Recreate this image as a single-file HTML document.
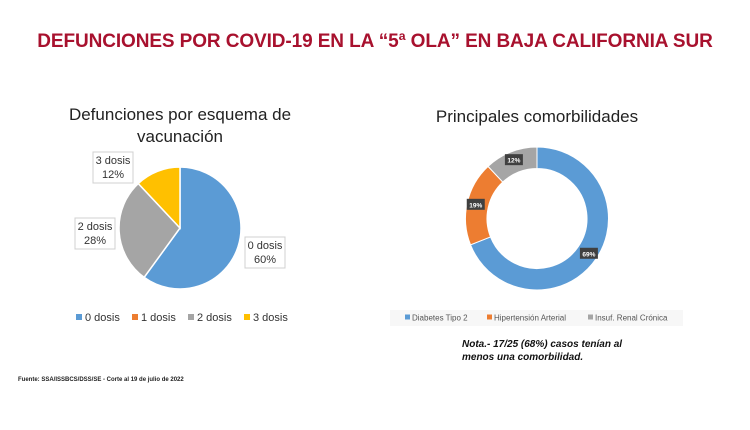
<!DOCTYPE html>
<html><head><meta charset="utf-8"><style>
body{margin:0;width:750px;height:430px;background:#fff;overflow:hidden;font-family:"Liberation Sans",sans-serif;position:relative}
.t{position:absolute;white-space:nowrap}
</style></head><body>
<div class="t" style="left:0;width:750px;top:31px;text-align:center;font-size:19px;font-weight:bold;color:#a8112e;letter-spacing:-0.1px">DEFUNCIONES POR COVID-19 EN LA “5ª OLA” EN BAJA CALIFORNIA SUR</div>
<svg id="s" width="750" height="430" style="position:absolute;left:0;top:0">
<text x="180" y="120" text-anchor="middle" font-size="17" fill="#222">Defunciones por esquema de</text>
<text x="180" y="142" text-anchor="middle" font-size="17" fill="#222">vacunación</text>
<text x="537" y="122" text-anchor="middle" font-size="17" fill="#222">Principales comorbilidades</text>
<rect x="390" y="310" width="293" height="16" fill="#f7f7f7"/>
<text x="462" y="347" font-size="10" font-style="italic" font-weight="bold" fill="#111">Nota.- 17/25 (68%) casos tenían al</text>
<text x="462" y="360" font-size="10" font-style="italic" font-weight="bold" fill="#111">menos una comorbilidad.</text>
<text x="18" y="381" font-size="6" fill="#222" font-weight="bold">Fuente: SSA/ISSBCS/DSS/SE  - Corte al 19 de julio de 2022</text>
</svg>
<script>
const pieCats=["0 dosis","1 dosis","2 dosis","3 dosis"];
const pieVals=[60,0,28,12];
const pieColors=["#5b9bd5","#ed7d31","#a5a5a5","#ffc000"];
const donutCats=["Diabetes Tipo 2","Hipertensión Arterial","Insuf. Renal Crónica"];
const donutVals=[69,19,12];
const donutColors=["#5b9bd5","#ed7d31","#a5a5a5"];
const NS="http://www.w3.org/2000/svg";
const s=document.getElementById('s');
function mk(t,a){const e=document.createElementNS(NS,t);for(const k in a)e.setAttribute(k,a[k]);s.appendChild(e);return e;}
function pt(cx,cy,r,f){const a=f*2*Math.PI;return [cx+r*Math.sin(a),cy-r*Math.cos(a)];}
// pie
let tot=pieVals.reduce((a,b)=>a+b,0),acc=0;
const pcx=180,pcy=228,pr=61;
const pieLbl=[[265,252],null,[95,233],[113,167]];
pieVals.forEach((v,i)=>{
  const f0=acc/tot,f1=(acc+v)/tot;acc+=v;
  if(v<=0)return;
  const [x0,y0]=pt(pcx,pcy,pr,f0),[x1,y1]=pt(pcx,pcy,pr,f1);
  const p=mk('path',{d:`M${pcx},${pcy}L${x0},${y0}A${pr},${pr} 0 ${f1-f0>0.5?1:0} 1 ${x1},${y1}Z`,fill:pieColors[i],stroke:'#fff','stroke-width':1.5});
  
  
  const L=pieLbl[i];
  const b=mk('rect',{x:L[0]-20,y:L[1]-15,width:40,height:31,fill:'#fff',stroke:'#d0d0d0'});
  
  
  [pieCats[i],v+'%'].forEach((tx,j)=>{const t=mk('text',{x:L[0],y:L[1]-3+j*14,'text-anchor':'middle','font-size':11,fill:'#333'});t.textContent=tx;
    
    });
});
let lx=76;
pieCats.forEach((c,i)=>{
  const r=mk('rect',{x:lx,y:314,width:6,height:6,fill:pieColors[i]});
  
  
  const t=mk('text',{x:lx+9,y:321,'font-size':11,fill:'#333'});t.textContent=c;
  
  
  lx+=56;
});
// donut
tot=donutVals.reduce((a,b)=>a+b,0);acc=0;
const dcx=537,dcy=218.5,ro=71.5,ri=50;
donutVals.forEach((v,i)=>{
  const f0=acc/tot,f1=(acc+v)/tot;acc+=v;
  const [a,b]=pt(dcx,dcy,ro,f0),[c,d]=pt(dcx,dcy,ro,f1),[e,f]=pt(dcx,dcy,ri,f1),[g,h]=pt(dcx,dcy,ri,f0);
  const lg=f1-f0>0.5?1:0;
  const p=mk('path',{d:`M${a},${b}A${ro},${ro} 0 ${lg} 1 ${c},${d}L${e},${f}A${ri},${ri} 0 ${lg} 0 ${g},${h}Z`,fill:donutColors[i],stroke:'#fff','stroke-width':1});
  
  
  const [mx,my]=pt(dcx,dcy,(ro+ri)/2+2,(f0+f1)/2);
  const bx=mk('rect',{x:mx-9,y:my-6,width:18,height:11,fill:'#404040'});
  
  
  const t=mk('text',{x:mx,y:my+2.5,'text-anchor':'middle','font-size':6.5,'font-weight':'bold',fill:'#fff'});t.textContent=v+'%';
  
  
});
const dlx=[405,487,588];
donutCats.forEach((c,i)=>{
  const r=mk('rect',{x:dlx[i],y:314.5,width:5,height:5,fill:donutColors[i]});
  
  
  const t=mk('text',{x:dlx[i]+7,y:320.5,'font-size':8,fill:'#555'});t.textContent=c;
  
  
});
</script>
</body></html>
